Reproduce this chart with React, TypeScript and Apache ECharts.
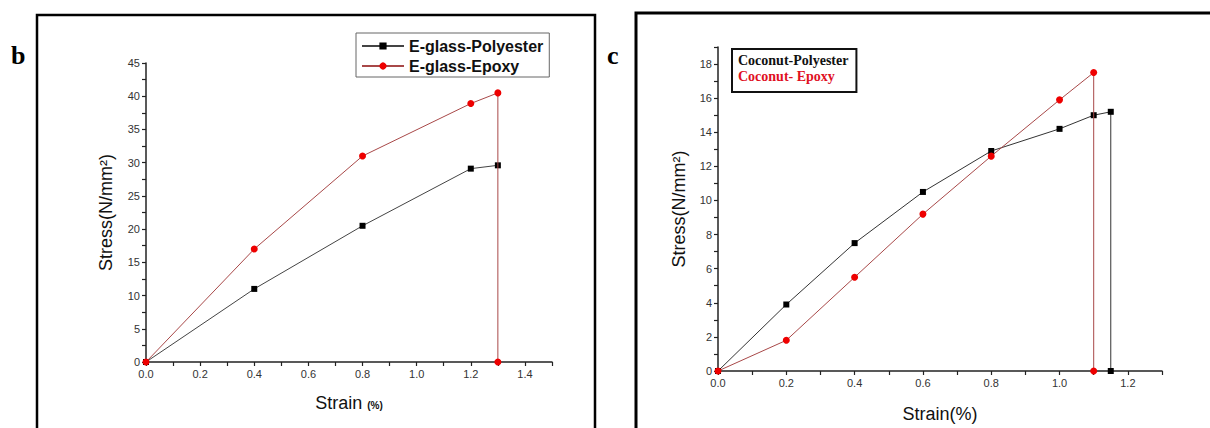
import React, { useEffect, useRef } from "react";
import * as echarts from "echarts";

// Panel b: E-glass composites
const bStrainPoly = [0, 0.4, 0.8, 1.2, 1.3];
const bPolyester = [0, 11, 20.5, 29.1, 29.6];
const bStrainEpoxy = [0, 0.4, 0.8, 1.2, 1.3, 1.3];
const bEpoxy = [0, 17, 31, 38.9, 40.5, 0];

// Panel c: Coconut composites
const cStrainPoly = [0, 0.2, 0.4, 0.6, 0.8, 1.0, 1.1, 1.15, 1.15];
const cPolyester = [0, 3.9, 7.5, 10.5, 12.9, 14.2, 15.0, 15.2, 0];
const cStrainEpoxy = [0, 0.2, 0.4, 0.6, 0.8, 1.0, 1.1, 1.1];
const cEpoxy = [0, 1.8, 5.5, 9.2, 12.6, 15.9, 17.5, 0];

const bNames = ["E-glass-Polyester", "E-glass-Epoxy"];
const cNames = ["Coconut-Polyester", "Coconut- Epoxy"];

const zip = (xs: number[], ys: number[]) => xs.map((x, i) => [x, ys[i]]);

const SANS = "Liberation Sans, Arial, sans-serif";
const SERIF = "Liberation Serif, Times New Roman, serif";

const axisBase = {
  axisLine: { show: true, onZero: false, lineStyle: { color: "#222", width: 1.5 } },
  axisTick: { show: true, length: 4, lineStyle: { color: "#222", width: 1.2 } },
  splitLine: { show: false },
  axisLabel: { color: "#333", fontSize: 11, fontFamily: SANS, margin: 6 },
  nameLocation: "middle" as const,
  nameTextStyle: { color: "#111", fontSize: 18, fontFamily: SANS },
};

export default function App() {
  const ref = useRef<HTMLDivElement>(null);
  useEffect(() => {
    if (!ref.current) return;
    const chart = echarts.init(ref.current, null, { renderer: "svg" });
    const evenLabel = (dec: number, step: number) => (v: number) => {
      const k = Math.round(v / step);
      return k % 2 === 0 ? v.toFixed(dec) : "";
    };
    chart.setOption({
      animation: false,
      backgroundColor: "#fff",
      grid: [
        { left: 146, top: 63, width: 406, height: 299 },
        { left: 718, top: 47, width: 444, height: 326 },
      ],
      xAxis: [
        {
          ...axisBase,
          gridIndex: 0,
          type: "value",
          min: 0,
          max: 1.5,
          interval: 0.1,
          axisLabel: { ...axisBase.axisLabel, formatter: evenLabel(1, 0.1) },
          name: "Strain {s|(%)}",
          nameGap: 32,
          nameTextStyle: {
            ...axisBase.nameTextStyle,
            rich: { s: { fontSize: 10, fontWeight: "bold", fontFamily: SANS, color: "#111", padding: [4, 0, 0, 0] } },
          },
        },
        {
          ...axisBase,
          gridIndex: 1,
          type: "value",
          min: 0,
          max: 1.3,
          interval: 0.1,
          axisLabel: { ...axisBase.axisLabel, formatter: evenLabel(1, 0.1) },
          name: "Strain(%)",
          nameGap: 34,
        },
      ],
      yAxis: [
        {
          ...axisBase,
          gridIndex: 0,
          type: "value",
          min: 0,
          max: 45,
          interval: 2.5,
          axisLabel: { ...axisBase.axisLabel, formatter: evenLabel(0, 2.5) },
          name: "Stress(N/mm²)",
          nameGap: 31,
        },
        {
          ...axisBase,
          gridIndex: 1,
          type: "value",
          min: 0,
          max: 19,
          interval: 1,
          axisLabel: { ...axisBase.axisLabel, formatter: evenLabel(0, 1) },
          name: "Stress(N/mm²)",
          nameGap: 30,
        },
      ],
      legend: [
        {
          left: 356,
          top: 33,
          orient: "vertical",
          data: bNames,
          itemWidth: 42,
          itemHeight: 9,
          itemGap: 4,
          padding: [5, 6, 3, 5],
          borderColor: "#666",
          borderWidth: 1,
          textStyle: { fontSize: 16, fontWeight: "bold", fontFamily: SANS, color: "#111" },
        },
        {
          left: 732,
          top: 49,
          orient: "vertical",
          data: [
            { name: cNames[0], icon: "none", textStyle: { color: "#111" } },
            { name: cNames[1], icon: "none", textStyle: { color: "#e0101f" } },
          ],
          itemWidth: 1,
          itemHeight: 1,
          itemGap: 0,
          padding: [3, 8, 8, 0],
          borderColor: "#111",
          borderWidth: 2,
          textStyle: { fontSize: 14, fontWeight: "bold", fontFamily: SERIF, lineHeight: 16 },
        },
      ],
      series: [
        {
          name: bNames[0],
          type: "line",
          xAxisIndex: 0,
          yAxisIndex: 0,
          data: zip(bStrainPoly, bPolyester),
          symbol: "rect",
          symbolSize: 6,
          itemStyle: { color: "#000" },
          lineStyle: { color: "#444", width: 1 },
          z: 2,
        },
        {
          name: bNames[1],
          type: "line",
          xAxisIndex: 0,
          yAxisIndex: 0,
          data: zip(bStrainEpoxy, bEpoxy),
          symbol: "circle",
          symbolSize: 7,
          itemStyle: { color: "#ee0000" },
          lineStyle: { color: "#a84848", width: 1 },
          z: 3,
        },
        {
          name: cNames[0],
          type: "line",
          xAxisIndex: 1,
          yAxisIndex: 1,
          data: zip(cStrainPoly, cPolyester),
          symbol: "rect",
          symbolSize: 6,
          itemStyle: { color: "#000" },
          lineStyle: { color: "#333", width: 1 },
          z: 2,
        },
        {
          name: cNames[1],
          type: "line",
          xAxisIndex: 1,
          yAxisIndex: 1,
          data: zip(cStrainEpoxy, cEpoxy),
          symbol: "circle",
          symbolSize: 7,
          itemStyle: { color: "#ee0000" },
          lineStyle: { color: "#a84848", width: 1 },
          z: 3,
        },
      ],
      graphic: [
        {
          type: "polyline",
          shape: { points: [[37, 440], [37, 15], [595, 15], [595, 440]] },
          style: { stroke: "#000", lineWidth: 2.5, fill: "none" },
        },
        {
          type: "polyline",
          shape: { points: [[636, 440], [636, 13], [1215, 13]] },
          style: { stroke: "#000", lineWidth: 3, fill: "none" },
        },
        {
          type: "text",
          left: 11,
          top: 42,
          style: { text: "b", font: "bold 26px " + SERIF, fill: "#000" },
        },
        {
          type: "text",
          left: 607,
          top: 42,
          style: { text: "c", font: "bold 26px " + SERIF, fill: "#000" },
        },
      ],
    });
    return () => chart.dispose();
  }, []);
  return (
    <div
      ref={ref}
      style={{ position: "absolute", left: 0, top: 0, width: 1210, height: 428 }}
    />
  );
}
